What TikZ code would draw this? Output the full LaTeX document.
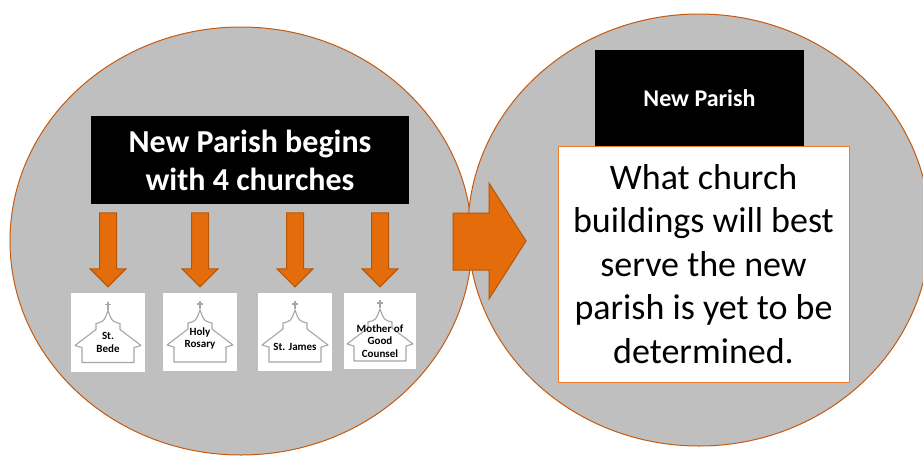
\documentclass[tikz,border=0pt]{standalone}
\usepackage{fontspec}
\setmainfont{Carlito}
\usetikzlibrary{calc}

\definecolor{shade}{HTML}{BFBFBF}
\definecolor{rim}{HTML}{C55A11}
\definecolor{arrowfill}{HTML}{E46C0A}
\definecolor{arrowline}{HTML}{B65708}
\definecolor{boxline}{HTML}{ED7D31}
\definecolor{churchgray}{HTML}{A6A6A6}

\begin{document}
\begin{tikzpicture}[x=1pt, y=-1pt,
  blob/.style={fill=shade, draw=rim, line width=1pt},
  blockarrow/.style={fill=arrowfill, draw=arrowline, line width=1pt, line join=miter},
  title/.style={fill=black, text=white, align=center, inner sep=0pt},
  card/.style={fill=white, inner sep=0pt},
  churchline/.style={draw=churchgray, line width=1.1pt, line join=round}]

\path[clip] (0,0) rectangle (923,456);

% The two circles
\draw[blob] (241,241) ellipse [x radius=231pt, y radius=214pt];
\draw[blob] (699,230) ellipse [x radius=231pt, y radius=216pt];

% Left side: heading
\node[title, minimum width=318pt, minimum height=88pt,
  font=\bfseries\fontsize{32}{38}\selectfont] (begins) at (250,160)
  {New Parish begins\\with 4 churches};

% Right side: heading and question
\node[title, minimum width=209pt, minimum height=96pt,
  font=\bfseries\fontsize{24}{29}\selectfont] (parish) at (699.5,98) {New Parish};
\node[fill=white, draw=boxline, line width=1pt, minimum width=291pt,
  minimum height=236pt, inner sep=0pt, align=center,
  font=\fontsize{36}{43.5}\selectfont] (question) at (703.5,264)
  {What church\\buildings will best\\serve the new\\parish is yet to be\\determined.};

% Big arrow from left circle to right circle
\draw[blockarrow] (453,213) -- (489,213) -- (489,183) -- (526,241)
  -- (489,299) -- (489,270) -- (453,270) -- cycle;

% The four churches, each with its arrow
\foreach \i/\x/\y/\w/\h/\dy/\lab in {
  1/108/332.5/74/79/10/{St.\\Bede},
  2/200/332/74/78/6.5/{Holy\\Rosary},
  3/295/332/74/78/15/{St. James},
  4/380/331/72/76/10/{Mother of\\Good\\Counsel}} {
  \node[card, minimum width=\w pt, minimum height=\h pt] (card\i) at (\x,\y) {};
  \begin{scope}[shift={(card\i.center)}]
    \draw[churchline] (0,-31) -- (0,-23) (-3,-28) -- (3,-28);
    \draw[churchline] (-26,30) -- (-26,15) -- (-33,13) -- (-12,-3) -- (-12,-9)
      .. controls (-4,-11) .. (0,-22) .. controls (4,-11) .. (12,-9)
      -- (12,-3) -- (33,13) -- (26,15) -- (26,30) -- cycle;
  \end{scope}
  \node[font=\bfseries\fontsize{11}{12.5}\selectfont, align=center] (name\i)
    at ($(card\i.center)+(0,\dy)$) {\lab};
  \draw[blockarrow, shift={(card\i.north)}] (-8.5,-80) -- (8.5,-80) -- (8.5,-24)
    -- (18,-24) -- (0,-6) -- (-18,-24) -- (-8.5,-24) -- cycle;
}

\end{tikzpicture}
\end{document}
